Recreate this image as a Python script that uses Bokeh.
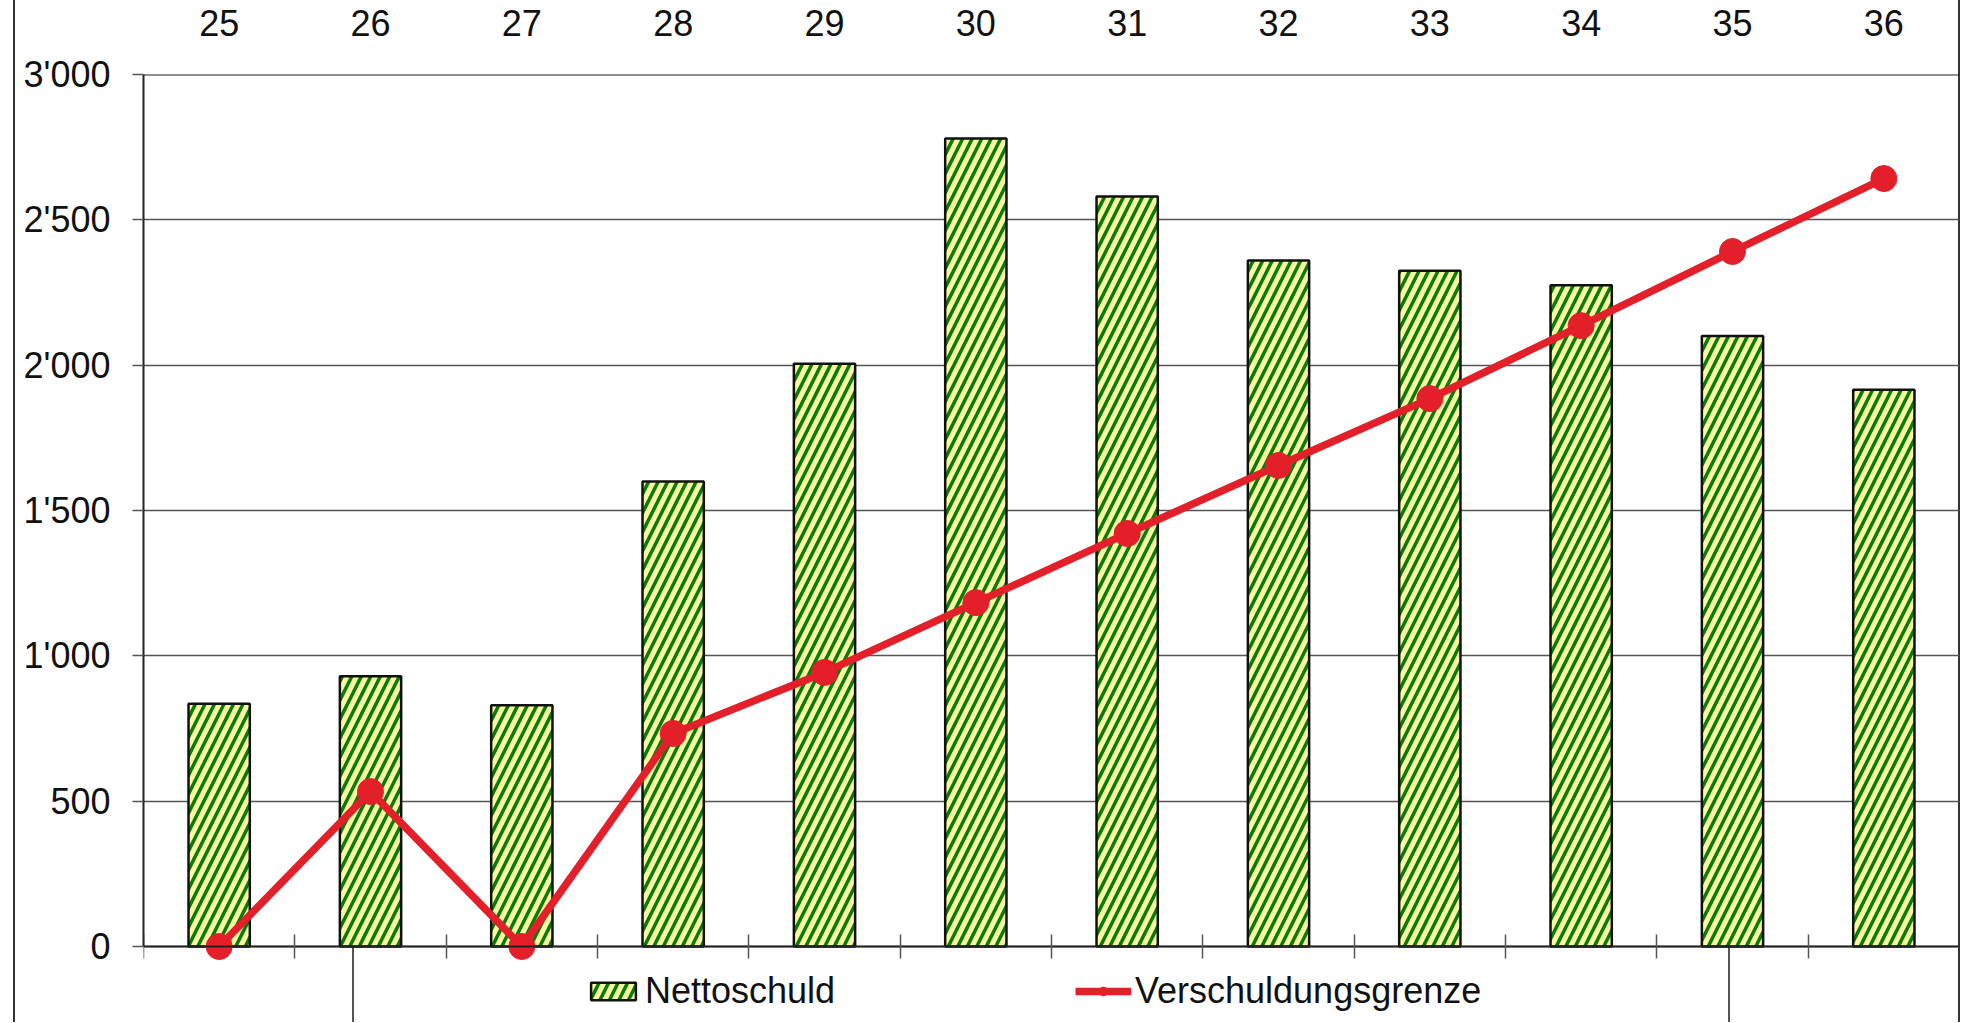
from bokeh.plotting import figure
from bokeh.models import (Range1d, LinearAxis, FixedTicker, Span,
                          Legend, LegendItem, ColumnDataSource, Grid)
from bokeh.embed import file_html
from bokeh.resources import INLINE

years = ["25", "26", "27", "28", "29", "30", "31", "32", "33", "34", "35", "36"]
nettoschuld = [835, 930, 830, 1600, 2005, 2780, 2580, 2360, 2325, 2275, 2100, 1915]
verschuldungsgrenze = [0, 533, 0, 733, 943, 1183, 1421, 1655, 1885, 2136, 2391, 2642]
y_ticks = [0, 500, 1000, 1500, 2000, 2500, 3000]
y_tick_labels = ["0", "500", "1'000", "1'500", "2'000", "2'500", "3'000"]

FONT = "Liberation Sans"
RED = "#e3202a"
DARK = "#222222"

n = len(years)
x_pos = [i + 0.5 for i in range(n)]          # category centres on a numeric scale
src = ColumnDataSource(dict(x=x_pos, netto=nettoschuld, grenze=verschuldungsgrenze))

# layout: the frame reaches down to the legend; the value range 0..3000 uses VALUE_PX pixels
FRAME_H = 948
VALUE_PX = 872
y_top = y_ticks[-1]
y_bottom = -y_top * (FRAME_H - VALUE_PX) / VALUE_PX

p = figure(frame_width=1816, frame_height=FRAME_H,
           x_range=Range1d(0, n), y_range=Range1d(y_bottom, y_top),
           output_backend="svg", toolbar_location=None,
           x_axis_location=None, y_axis_location=None,
           min_border_left=143, min_border_top=74, min_border_right=5, min_border_bottom=0,
           background_fill_alpha=0, border_fill_alpha=0)
p.grid.visible = False
p.outline_line_color = None

# outer chart frame and legend box side lines (drawn as page background)
p.styles = {
    "background-image": "linear-gradient(#333,#333), linear-gradient(#333,#333), "
                        "linear-gradient(#555,#555), linear-gradient(#555,#555)",
    "background-size": "2px 100%, 2px 100%, 2px 100%, 2px 100%",
    "background-position": "13px 0px, 1958px 0px, 352px 946px, 1728px 946px",
    "background-repeat": "no-repeat",
    "background-color": "white",
}

# left value axis
yaxis = LinearAxis(ticker=FixedTicker(ticks=y_ticks), bounds=(y_ticks[0], y_ticks[-1]),
                   major_label_overrides={t: l for t, l in zip(y_ticks, y_tick_labels)})
yaxis.major_label_text_font = FONT
yaxis.major_label_text_font_size = "36px"
yaxis.major_label_text_color = "#111111"
yaxis.major_tick_in = 0
yaxis.major_tick_out = 11
yaxis.major_tick_line_color = "#555555"
yaxis.major_tick_line_width = 1.5
yaxis.minor_tick_line_color = None
yaxis.axis_line_color = DARK
yaxis.axis_line_width = 2
yaxis.major_label_standoff = 22
p.add_layout(yaxis, "left")

grid = Grid(dimension=1, ticker=yaxis.ticker, grid_line_color="#555555", grid_line_width=1.5)
p.add_layout(grid)
p.add_layout(Span(location=y_top, dimension="width", line_color=DARK, line_width=2))

# top category axis
xaxis = LinearAxis(ticker=FixedTicker(ticks=x_pos),
                   major_label_overrides={x: y for x, y in zip(x_pos, years)})
xaxis.major_label_text_font = FONT
xaxis.major_label_text_font_size = "36px"
xaxis.major_label_text_color = "#111111"
xaxis.major_tick_line_color = None
xaxis.minor_tick_line_color = None
xaxis.axis_line_color = None
xaxis.major_label_standoff = 33
p.add_layout(xaxis, "above")

# category axis line at zero with ticks between categories
baxis = LinearAxis(ticker=FixedTicker(ticks=list(range(n))), fixed_location=0)
baxis.major_tick_in = 12
baxis.major_tick_out = 12
baxis.major_tick_line_color = "#555555"
baxis.major_tick_line_width = 1.5
baxis.minor_tick_line_color = None
baxis.axis_line_color = DARK
baxis.axis_line_width = 2
baxis.major_label_text_font_size = "1px"
baxis.major_label_text_alpha = 0
baxis.major_label_standoff = 0
p.add_layout(baxis, "below")

bars = p.vbar(x="x", top="netto", width=0.405, source=src,
              fill_color="#f9f9a0", line_color="#111111", line_width=2.5,
              hatch_pattern="/", hatch_color="#0a7a0a", hatch_weight=3.5, hatch_scale=19)
line = p.line(x="x", y="grenze", source=src, line_color=RED, line_width=7.5)
pts = p.scatter(x="x", y="grenze", source=src, size=26, fill_color=RED, line_color=RED)

legend = Legend(items=[LegendItem(label="Nettoschuld", renderers=[bars]),
                       LegendItem(label="Verschuldungsgrenze", renderers=[line, pts])],
                orientation="horizontal", location=(442, 10))
legend.label_text_font = FONT
legend.label_text_font_size = "36px"
legend.label_text_color = "#111111"
legend.glyph_width = 56
legend.glyph_height = 22
legend.label_standoff = 4
legend.label_width = 372
legend.spacing = 58
legend.padding = 0
legend.margin = 0
legend.border_line_color = None
legend.background_fill_alpha = 0
p.add_layout(legend)

open("out.html", "w").write(file_html(p, INLINE))
